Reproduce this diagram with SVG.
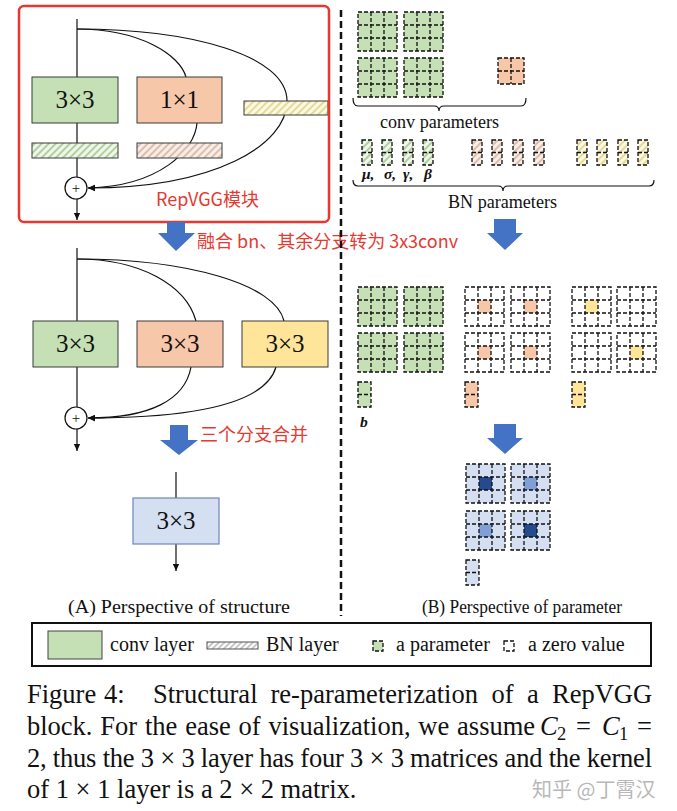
<svg xmlns="http://www.w3.org/2000/svg" width="677" height="811" viewBox="0 0 677 811">
<style>
.ln{fill:none;stroke:#111;stroke-width:1.2}
.box{stroke:#3a3a3a;stroke-width:1}
.g{fill:#c5e0b4}.s{fill:#f6c7a8}.y{fill:#fee59a}.bl{fill:#d5dff2}
.bd{fill:#254a8e}.bm{fill:#7f9fd6}
.dash{fill:none;stroke:#111;stroke-width:1.3;stroke-dasharray:4 2}
.lbl{font-family:"Liberation Serif","Times New Roman",serif;font-size:25px;fill:#111;text-anchor:middle}
.red{font-family:"Noto Sans CJK SC","Noto Sans",sans-serif;font-size:18px;fill:#e53a32}
.ser{font-family:"Liberation Serif",serif;fill:#111}
.cap{font-family:"Liberation Serif",serif;font-size:26.5px;fill:#111}
.barrow{fill:#4472c4}
</style>
<defs>
<marker id="ah" viewBox="0 0 10 10" refX="10" refY="5" markerWidth="8" markerHeight="7" markerUnits="userSpaceOnUse" orient="auto"><path d="M0,0.5 L10,5 L0,9.5 z" fill="#111"/></marker>
<pattern id="hg" patternUnits="userSpaceOnUse" width="5" height="5" patternTransform="rotate(45)"><rect width="5" height="5" fill="#f1f6ec"/><line x1="1" y1="0" x2="1" y2="5" stroke="#a9cd94" stroke-width="1.8"/></pattern>
<pattern id="hs" patternUnits="userSpaceOnUse" width="5" height="5" patternTransform="rotate(45)"><rect width="5" height="5" fill="#f8eee7"/><line x1="1" y1="0" x2="1" y2="5" stroke="#d9b9a5" stroke-width="1.8"/></pattern>
<pattern id="hy" patternUnits="userSpaceOnUse" width="5" height="5" patternTransform="rotate(45)"><rect width="5" height="5" fill="#fbf8e4"/><line x1="1" y1="0" x2="1" y2="5" stroke="#e3d88e" stroke-width="1.8"/></pattern>
<pattern id="hk" patternUnits="userSpaceOnUse" width="4" height="4" patternTransform="rotate(45)"><rect width="4" height="4" fill="#fff"/><line x1="1" y1="0" x2="1" y2="4" stroke="#aaa" stroke-width="1.3"/></pattern>
<g id="grid3"><rect class="dash" x="0" y="0" width="39" height="39"/><path class="dash" d="M13,0V39M26,0V39M0,13H39M0,26H39"/></g>
<g id="grid2"><rect class="dash" width="26" height="26"/><path class="dash" d="M13,0V26M0,13H26"/></g>
<g id="vec"><rect class="dash" width="13" height="25"/><path class="dash" d="M0,12.5H13"/></g>
<g id="bnv"><rect class="dash" width="10" height="25"/><path class="dash" d="M0,12.5H10"/></g>
</defs>
<rect width="677" height="811" fill="#fff"/>

<!-- connectors -->
<g id="connectors">
<path class="ln" d="M77,19V177"/>
<path class="ln" d="M77,199V220" marker-end="url(#ah)"/>
<path class="ln" d="M77,29 C140,29 180,55 186,77"/>
<path class="ln" d="M77,29 C190,29 287,55 287,101 C287,145 215,188 88,188" marker-end="url(#ah)"/>
<path class="ln" d="M197,123 C195,150 160,186 88,188" marker-end="url(#ah)"/>
<path class="ln" d="M77,248V407"/>
<path class="ln" d="M77,429V451" marker-end="url(#ah)"/>
<path class="ln" d="M77,259 C140,259 186,285 196,321"/>
<path class="ln" d="M77,259 C190,259 276,285 284,321"/>
<path class="ln" d="M191,367 C185,400 150,418 88,418" marker-end="url(#ah)"/>
<path class="ln" d="M276,367 C265,405 190,418 88,418" marker-end="url(#ah)"/>
<path class="ln" d="M176,472V498"/>
<path class="ln" d="M176,544V571" marker-end="url(#ah)"/>
</g>

<!-- (A) top: RepVGG block -->
<g id="a-conv3">
<rect class="g box" x="32" y="77" width="86" height="46"/>
<text class="lbl" x="75" y="108">3×3</text>
</g>
<g id="a-conv1">
<rect class="s box" x="137" y="77" width="85" height="46"/>
<text class="lbl" x="179.5" y="108">1×1</text>
</g>
<g id="a-bn-id"><rect class="box" fill="url(#hy)" x="244" y="101" width="84" height="14"/></g>
<g id="a-bn3"><rect class="box" fill="url(#hg)" x="32" y="143" width="86" height="15"/></g>
<g id="a-bn1"><rect class="box" fill="url(#hs)" x="137" y="143" width="85" height="15"/></g>
<g id="a-add1">
<circle cx="76" cy="188" r="11" fill="#fff" stroke="#111" stroke-width="1.2"/>
<text class="ser" x="76" y="193" font-size="15" text-anchor="middle">+</text>
</g>
<g id="repvgg-box">
<rect x="19" y="6" width="310" height="216" rx="5" fill="none" stroke="#e8372f" stroke-width="2.5"/>
<text class="red" x="156" y="206">RepVGG模块</text>
</g>

<!-- blue block arrows -->
<g id="arrow-a1"><polygon class="barrow" points="167,222 185,222 185,233 195,233 176,251 158,233 167,233"/></g>
<g id="label-a1"><text class="red" x="197" y="248">融合 bn、其余分支转为 3x3conv</text></g>

<!-- (A) middle -->
<g id="b-conv3g">
<rect class="g box" x="33" y="321" width="85" height="46"/>
<text class="lbl" x="75.5" y="352">3×3</text>
</g>
<g id="b-conv3s">
<rect class="s box" x="137" y="321" width="86" height="46"/>
<text class="lbl" x="180" y="352">3×3</text>
</g>
<g id="b-conv3y">
<rect class="y box" x="242" y="321" width="86" height="46"/>
<text class="lbl" x="285" y="352">3×3</text>
</g>
<g id="b-add">
<circle cx="76" cy="418" r="11" fill="#fff" stroke="#111" stroke-width="1.2"/>
<text class="ser" x="76" y="423" font-size="15" text-anchor="middle">+</text>
</g>
<g id="arrow-a2"><polygon class="barrow" points="170,425 188,425 188,440 198,440 179,455 160,440 170,440"/></g>
<g id="label-a2"><text class="red" x="200" y="441">三个分支合并</text></g>

<!-- (A) bottom -->
<g id="c-conv3">
<rect class="bl" x="133" y="498" width="86" height="46" stroke="#6f86b8" stroke-width="1.2"/>
<text class="lbl" x="176" y="529">3×3</text>
</g>
<text class="ser" x="68" y="613" font-size="19" textLength="222" lengthAdjust="spacingAndGlyphs">(A) Perspective of structure</text>

<!-- divider -->
<path d="M341,10V616" stroke="#111" stroke-width="2.5" stroke-dasharray="7 4" fill="none"/>

<!-- (B) top: conv parameters -->
<g id="p-conv3">
<rect class="g" x="358" y="12" width="39" height="39"/><use href="#grid3" x="358" y="12"/>
<rect class="g" x="404" y="12" width="39" height="39"/><use href="#grid3" x="404" y="12"/>
<rect class="g" x="358" y="58" width="39" height="39"/><use href="#grid3" x="358" y="58"/>
<rect class="g" x="404" y="58" width="39" height="39"/><use href="#grid3" x="404" y="58"/>
</g>
<g id="p-conv1">
<rect class="s" x="498" y="58" width="26" height="26"/><use href="#grid2" x="498" y="58"/>
</g>
<g id="p-conv-brace">
<path class="ln" d="M353,98 Q353,106 358,106 L434,106 Q439,106 439,111 Q439,106 444,106 L521,106 Q526,106 526,98" stroke-width="1"/>
<text class="ser" x="380" y="128" font-size="18" textLength="119" lengthAdjust="spacingAndGlyphs">conv parameters</text>
</g>
<g id="p-bn">
<rect fill="url(#hg)" x="362" y="140" width="10" height="25"/><use href="#bnv" x="362" y="140"/>
<rect fill="url(#hg)" x="382" y="140" width="10" height="25"/><use href="#bnv" x="382" y="140"/>
<rect fill="url(#hg)" x="403" y="140" width="10" height="25"/><use href="#bnv" x="403" y="140"/>
<rect fill="url(#hg)" x="423" y="140" width="10" height="25"/><use href="#bnv" x="423" y="140"/>
<rect fill="url(#hs)" x="472" y="140" width="10" height="25"/><use href="#bnv" x="472" y="140"/>
<rect fill="url(#hs)" x="492" y="140" width="10" height="25"/><use href="#bnv" x="492" y="140"/>
<rect fill="url(#hs)" x="513" y="140" width="10" height="25"/><use href="#bnv" x="513" y="140"/>
<rect fill="url(#hs)" x="534" y="140" width="10" height="25"/><use href="#bnv" x="534" y="140"/>
<rect fill="url(#hy)" x="577" y="140" width="10" height="25"/><use href="#bnv" x="577" y="140"/>
<rect fill="url(#hy)" x="597" y="140" width="10" height="25"/><use href="#bnv" x="597" y="140"/>
<rect fill="url(#hy)" x="618" y="140" width="10" height="25"/><use href="#bnv" x="618" y="140"/>
<rect fill="url(#hy)" x="638" y="140" width="10" height="25"/><use href="#bnv" x="638" y="140"/>
<g class="ser" font-size="15.5" font-weight="bold" font-style="italic">
<text x="362" y="179">μ,</text><text x="384" y="179">σ,</text><text x="403" y="179">γ,</text><text x="424" y="179">β</text>
</g>
</g>
<g id="p-bn-brace">
<path class="ln" d="M353,180 Q353,186 358,186 L498,186 Q503,186 503,191 Q503,186 508,186 L649,186 Q654,186 654,180" stroke-width="1"/>
<text class="ser" x="448" y="208" font-size="18" textLength="109" lengthAdjust="spacingAndGlyphs">BN parameters</text>
</g>
<g id="arrow-b1"><polygon class="barrow" points="494,219 516,219 516,233 523,233 505,250 487,233 494,233"/></g>

<!-- (B) middle: fused 3x3 kernels -->
<g id="q-green">
<rect class="g" x="358" y="287" width="39" height="39"/><use href="#grid3" x="358" y="287"/>
<rect class="g" x="404" y="287" width="39" height="39"/><use href="#grid3" x="404" y="287"/>
<rect class="g" x="358" y="333" width="39" height="39"/><use href="#grid3" x="358" y="333"/>
<rect class="g" x="404" y="333" width="39" height="39"/><use href="#grid3" x="404" y="333"/>
<rect class="g" x="358" y="382" width="13" height="25"/><use href="#vec" x="358" y="382"/>
<text class="ser" x="360" y="427" font-size="15.5" font-weight="bold" font-style="italic">b</text>
</g>
<g id="q-salmon">
<rect class="s" x="478" y="300" width="13" height="13"/><use href="#grid3" x="465" y="287"/>
<rect class="s" x="524" y="300" width="13" height="13"/><use href="#grid3" x="511" y="287"/>
<rect class="s" x="478" y="346" width="13" height="13"/><use href="#grid3" x="465" y="333"/>
<rect class="s" x="524" y="346" width="13" height="13"/><use href="#grid3" x="511" y="333"/>
<rect class="s" x="465" y="382" width="13" height="25"/><use href="#vec" x="465" y="382"/>
</g>
<g id="q-yellow">
<rect class="y" x="585" y="300" width="13" height="13"/><use href="#grid3" x="572" y="287"/>
<use href="#grid3" x="617" y="287"/>
<use href="#grid3" x="572" y="333"/>
<rect class="y" x="630" y="346" width="13" height="13"/><use href="#grid3" x="617" y="333"/>
<rect class="y" x="572" y="382" width="13" height="25"/><use href="#vec" x="572" y="382"/>
</g>
<g id="arrow-b2"><polygon class="barrow" points="494,424 516,424 516,438 523,438 505,454 487,438 494,438"/></g>

<!-- (B) bottom: final kernel -->
<g id="r-final">
<rect class="bl" x="466" y="464" width="39" height="39"/><rect class="bd" x="479" y="477" width="13" height="13"/><use href="#grid3" x="466" y="464"/>
<rect class="bl" x="511" y="464" width="39" height="39"/><rect class="bm" x="524" y="477" width="13" height="13"/><use href="#grid3" x="511" y="464"/>
<rect class="bl" x="466" y="511" width="39" height="39"/><rect class="bm" x="479" y="524" width="13" height="13"/><use href="#grid3" x="466" y="511"/>
<rect class="bl" x="511" y="511" width="39" height="39"/><rect class="bd" x="524" y="524" width="13" height="13"/><use href="#grid3" x="511" y="511"/>
<rect class="bl" x="466" y="560" width="13" height="25"/><use href="#vec" x="466" y="560"/>
</g>
<text class="ser" x="422" y="613" font-size="19" textLength="200" lengthAdjust="spacingAndGlyphs">(B) Perspective of parameter</text>

<!-- legend -->
<g id="legend">
<rect x="32" y="623" width="619" height="43" fill="none" stroke="#111" stroke-width="2"/>
<rect class="g" x="48" y="631" width="54" height="28" stroke="#444" stroke-width="1"/>
<text class="ser" x="110" y="651" font-size="20">conv layer</text>
<rect fill="url(#hk)" x="207" y="642" width="51" height="7" stroke="#555" stroke-width="1"/>
<text class="ser" x="266" y="651" font-size="20">BN layer</text>
<rect class="g" x="373" y="641" width="10" height="10"/><rect class="dash" x="373" y="641" width="10" height="10" stroke-width="1"/>
<text class="ser" x="396" y="651" font-size="20">a parameter</text>
<rect class="dash" x="504" y="641" width="10" height="10" stroke-width="1"/>
<text class="ser" x="528" y="651" font-size="20">a zero value</text>
</g>

<!-- caption -->
<g id="caption" class="cap">
<text x="27" y="703">Figure</text>
<text x="104" y="703">4:</text>
<text x="153" y="703">Structural</text>
<text x="270.5" y="703">re-parameterization</text>
<text x="491.5" y="703">of</text>
<text x="527" y="703">a</text>
<text x="552" y="703">RepVGG</text>
<text x="27" y="735" word-spacing="1.2">block. For the ease of visualization, we assume</text>
<text x="540" y="735" font-style="italic">C</text><text x="557" y="740" font-size="18.5">2</text>
<text x="576" y="735">=</text>
<text x="602" y="735" font-style="italic">C</text><text x="619" y="740" font-size="18.5">1</text>
<text x="637" y="735">=</text>
<text x="27" y="767" textLength="625" lengthAdjust="spacing">2, thus the 3 × 3 layer has four 3 × 3 matrices and the kernel</text>
<text x="27" y="798">of 1 × 1 layer is a 2 × 2 matrix.</text>
</g>
<text x="532" y="797" font-family="'Noto Sans CJK SC',sans-serif" font-size="20" fill="#b8b8b8">知乎 @丁霄汉</text>
</svg>
